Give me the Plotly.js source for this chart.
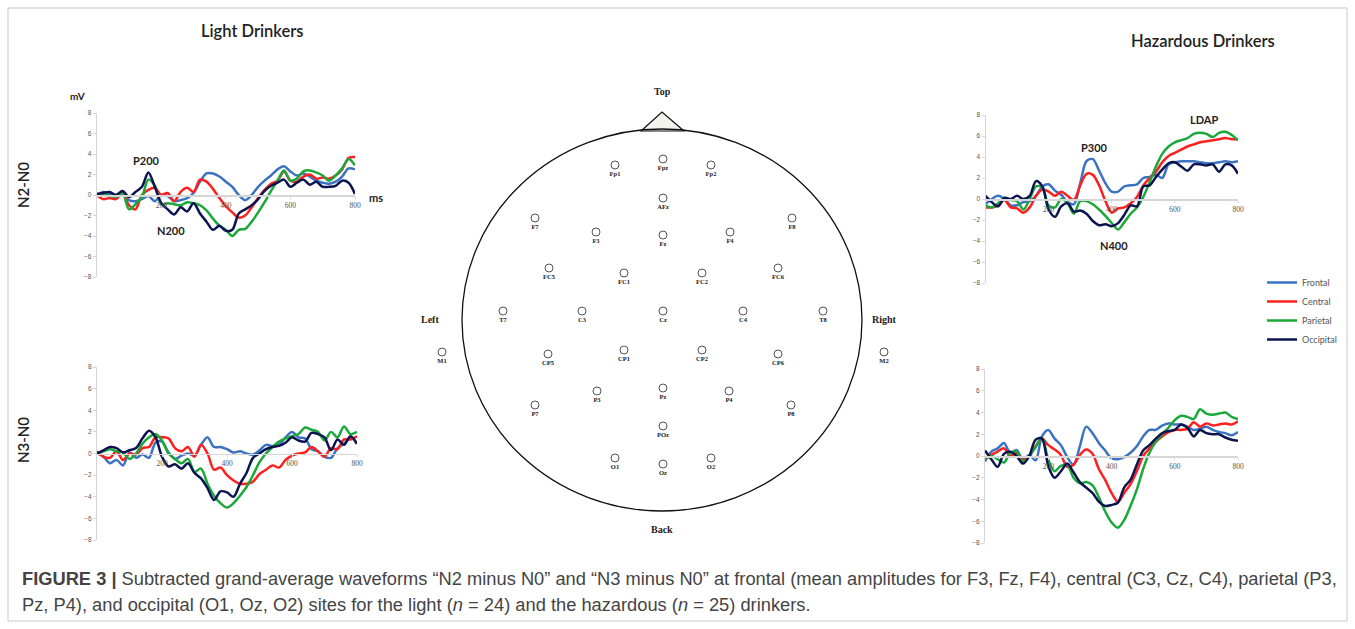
<!DOCTYPE html>
<html>
<head>
<meta charset="utf-8">
<script src="https://cdn.plot.ly/plotly-3.0.1.min.js"></script>
<style>html,body{margin:0;padding:0;background:#fff;}#chart{width:1355px;height:629px;}</style>
</head>
<body>
<div id="chart"></div>
<script>
// ---------- data ----------
const timeMs = [0,20,40,60,80,100,120,140,160,180,200,220,240,260,280,300,320,340,360,380,400,420,440,460,480,500,520,540,560,580,600,620,640,660,680,700,720,740,760,780,800];
const regions = ["Frontal","Central","Parietal","Occipital"];
const regionColors = ["#3b73c2","#ff1f1f","#1aa83a","#0c1450"];

// Light drinkers, N2 minus N0
const lightN2_frontal   = [0.0,0.3,0.1,0.0,0.2,-0.5,-0.6,-0.4,-0.1,-0.6,0.0,-0.1,-0.6,-0.5,-0.3,0.2,1.3,2.1,2.1,1.8,1.3,0.8,0.0,-0.5,0.0,0.8,1.4,1.9,2.5,2.8,2.3,1.9,2.1,1.8,1.4,1.2,1.1,1.3,1.8,2.6,2.5];
const lightN2_central   = [0.0,-0.4,-0.3,-0.4,0.2,-1.0,-1.4,0.0,0.5,0.7,0.0,0.2,-0.6,0.3,0.7,0.3,1.5,1.3,0.6,-0.3,-1.1,-1.7,-2.2,-2.0,-1.2,-0.3,0.5,1.1,1.4,2.3,1.4,1.3,1.8,2.0,1.6,1.7,1.6,1.9,2.5,3.6,3.7];
const lightN2_parietal  = [0.0,0.1,-0.1,-0.2,0.2,-1.4,-0.9,-0.2,1.5,0.9,-0.9,-0.8,-0.9,-1.0,-0.7,-0.8,-1.0,-1.5,-2.3,-3.0,-3.4,-4.0,-3.4,-3.3,-2.6,-1.7,-0.7,0.4,1.4,2.4,1.4,1.6,2.3,2.4,2.2,1.9,1.4,1.9,2.6,3.5,2.9];
const lightN2_occipital = [0.1,0.2,0.3,0.0,0.4,-0.2,0.3,0.8,2.2,0.8,-0.8,-1.4,-1.9,-1.2,-1.6,-0.8,-1.8,-2.6,-3.4,-3.0,-3.5,-3.4,-1.8,-1.4,-1.0,-0.4,0.4,0.9,1.2,1.5,0.8,1.2,1.5,1.0,1.3,0.8,0.8,0.9,1.4,1.2,0.1];

// Light drinkers, N3 minus N0
const lightN3_frontal   = [0.0,-0.3,-0.9,-0.6,-1.1,0.1,-0.4,-0.1,-0.4,1.0,1.1,0.1,-0.5,-0.2,0.0,-0.2,0.8,1.5,0.6,0.6,0.4,0.1,0.2,0.0,-0.1,0.3,0.8,0.7,0.8,1.5,2.0,1.5,1.4,0.4,0.2,-0.3,-0.4,0.5,0.9,1.5,0.9];
const lightN3_central   = [0.2,-0.3,-0.4,0.2,-0.6,0.0,-0.1,0.5,0.6,1.5,1.5,1.4,0.5,0.2,0.6,-0.3,0.8,0.0,-1.5,-1.3,-2.0,-2.5,-2.8,-2.8,-2.6,-1.9,-1.5,-1.1,-1.3,-0.6,-0.2,0.0,0.1,0.6,0.2,-0.3,0.5,0.4,1.3,1.3,1.6];
const lightN3_parietal  = [0.0,0.2,0.4,0.2,0.1,-0.5,0.0,0.9,1.5,1.8,1.2,0.0,-0.5,-0.9,-0.5,-1.7,-1.4,-2.8,-3.9,-4.6,-5.0,-4.6,-3.9,-3.1,-2.0,-0.8,0.0,0.6,1.1,1.4,1.6,1.8,2.4,2.2,2.0,1.2,2.0,1.5,2.5,1.8,2.0];
const lightN3_occipital = [0.0,0.3,0.6,0.5,0.1,0.3,0.5,1.4,2.1,1.5,-0.3,-1.2,-1.0,-1.4,-0.9,-1.8,-2.3,-3.2,-4.3,-3.5,-3.6,-4.0,-2.8,-1.8,-0.4,0.0,0.4,0.6,0.7,1.0,1.5,1.2,1.1,1.9,1.8,1.5,0.3,1.3,0.8,1.6,0.9];

// Hazardous drinkers, N2 minus N0
const hazN2_frontal   = [-0.5,0.0,0.3,0.0,-0.6,-0.6,-0.3,-0.2,0.3,1.2,1.4,0.8,0.4,-0.3,-0.5,1.5,3.6,3.8,2.7,1.5,0.7,0.7,1.2,1.3,1.4,2.0,2.1,2.3,2.0,3.3,3.5,3.6,3.6,3.6,3.5,3.4,3.4,3.5,3.6,3.5,3.6];
const hazN2_central   = [-0.8,-0.8,-0.6,-0.1,-0.8,-0.9,-1.3,-0.8,0.3,0.9,0.7,0.3,0.7,0.3,-0.1,1.3,2.4,2.3,1.3,-0.2,-1.3,-0.9,-0.8,-0.4,0.2,1.3,2.0,2.6,3.5,4.1,4.4,4.7,5.0,5.2,5.4,5.5,5.6,5.7,5.8,5.7,5.7];
const hazN2_parietal  = [-0.6,-0.8,-0.4,0.1,-0.1,-0.2,-1.0,0.0,1.2,1.1,-0.6,-0.8,0.0,-0.4,-1.4,-0.2,-0.2,-0.5,-1.0,-1.6,-2.3,-2.9,-2.2,-1.4,-0.8,0.2,1.6,3.1,4.3,5.0,5.4,5.6,5.8,6.2,6.3,6.2,5.9,6.3,6.4,6.1,5.6];
const hazN2_occipital = [0.3,-0.3,-0.7,0.1,0.0,0.3,0.0,0.3,1.7,1.2,-1.0,-1.7,-0.7,-0.4,-1.2,-1.1,-1.4,-2.1,-2.5,-2.4,-2.6,-2.3,-1.5,-0.6,-0.7,1.2,1.3,2.1,2.8,3.4,3.5,3.1,2.7,3.3,3.3,3.2,3.3,2.6,3.3,3.2,2.4];

// Hazardous drinkers, N3 minus N0
const hazN3_frontal   = [-0.5,0.4,0.7,1.2,0.25,0.55,-0.4,0.1,-0.4,1.8,2.4,1.6,1.0,-0.1,-0.8,0.9,2.7,2.1,1.2,0.5,-0.2,-0.3,-0.1,0.3,0.9,1.8,2.4,2.4,2.8,3.0,2.9,2.9,2.7,2.4,2.5,2.7,2.4,2.2,2.1,1.9,2.2];
const hazN3_central   = [-0.3,0.1,0.4,0.7,0.0,0.3,-0.3,0.0,0.9,1.6,1.0,0.6,0.1,-1.0,-0.8,0.1,0.6,0.2,-1.2,-2.2,-3.4,-4.2,-3.4,-2.6,-1.4,0.0,0.7,1.3,1.8,2.2,2.4,2.4,2.5,3.1,2.7,3.0,2.8,2.9,3.0,2.9,3.2];
const hazN3_parietal  = [-0.3,0.0,-0.3,-0.6,0.3,0.4,-0.5,0.0,0.8,1.7,-0.3,-1.4,-0.9,-0.8,-2.0,-2.5,-2.4,-2.7,-3.8,-5.1,-6.1,-6.6,-5.9,-4.6,-3.1,-1.2,0.3,1.3,2.0,2.6,3.3,3.7,3.6,3.4,4.3,3.9,3.8,3.9,4.0,3.6,3.4];
const hazN3_occipital = [0.5,-0.3,-1.0,0.2,0.4,0.0,-0.7,0.0,1.5,1.6,-0.9,-2.0,-1.4,-0.7,-1.5,-2.4,-2.9,-3.4,-4.2,-4.6,-4.5,-4.3,-2.9,-2.2,-0.8,0.5,1.0,1.6,2.1,2.3,2.4,2.9,2.6,1.8,2.4,2.1,2.0,2.0,1.7,1.5,1.4];

const yTickVals = [-8,-6,-4,-2,0,2,4,6,8];
const xTickVals = [200,400,600,800];

// electrode montage (head map positions)
const electrodeNames = ["Fp1","Fpz","Fp2","AFz","F7","F3","Fz","F4","F8","FC5","FC1","FC2","FC6","T7","C3","Cz","C4","T8","M1","CP5","CP1","CP2","CP6","M2","P7","P3","Pz","P4","P8","POz","O1","Oz","O2"];
const electrodeX = [615,663,711,663,535,596,663,730,792,549,624,702,778,503,582,663,743,823,442,548,624,702,778,884,535,597,663,729,791,663,615,663,711];
const electrodeY = [165,159,165,198,218,232,235,232,218,268,273,273,268,311,311,311,311,311,352,354,350,350,354,352,405,391,388,391,405,426,458,464,458];

// ---------- figure ----------
const W = 1355, H = 629;
const panels = [
  {xa:'x',  ya:'y',  series:[lightN2_frontal,lightN2_central,lightN2_parietal,lightN2_occipital], legend:true},
  {xa:'x2', ya:'y2', series:[lightN3_frontal,lightN3_central,lightN3_parietal,lightN3_occipital], legend:false},
  {xa:'x3', ya:'y3', series:[hazN2_frontal,hazN2_central,hazN2_parietal,hazN2_occipital], legend:false},
  {xa:'x4', ya:'y4', series:[hazN3_frontal,hazN3_central,hazN3_parietal,hazN3_occipital], legend:false}
];
const traces = [];
panels.forEach(p => {
  p.series.forEach((vals, i) => {
    traces.push({
      type:'scatter', mode:'lines', x: timeMs, y: vals,
      xaxis: p.xa, yaxis: p.ya, name: regions[i],
      legendgroup: regions[i], showlegend: p.legend,
      line: {color: regionColors[i], width: 2.5, shape: 'spline', smoothing: 0.9},
      hoverinfo: 'skip'
    });
  });
});
traces.push({
  type:'scatter', mode:'markers+text', x: electrodeX, y: electrodeY, text: electrodeNames,
  xaxis:'x5', yaxis:'y5', showlegend:false, hoverinfo:'skip',
  textposition:'bottom center',
  textfont:{family:'Liberation Serif, serif', size:6.5, color:'#222', weight:'bold'},
  marker:{symbol:'circle-open', size:8, color:'#555', line:{width:1}}
});

// pixel boxes of each panel: [x0 px, x800 px, y(+8) px, y(-8) px]
const boxes = [[96.7,355,113,277],[97,357,367,540],[985.5,1238,115,283],[985,1238,369,543]];
const layout = {
  width: W, height: H, margin:{l:0,r:0,t:0,b:0},
  paper_bgcolor:'#ffffff', plot_bgcolor:'rgba(0,0,0,0)',
  font:{family:'Liberation Sans, Arial, sans-serif', color:'#333'},
  showlegend:true,
  legend:{x:1262/W, y:1-268/H, xanchor:'left', yanchor:'top', bgcolor:'rgba(0,0,0,0)',
          font:{family:'Lato, Open Sans, sans-serif', size:9, color:'#555'}, itemwidth:30, tracegroupgap:0},
  xaxis5:{domain:[0,1], range:[0,W], visible:false, fixedrange:true},
  yaxis5:{domain:[0,1], range:[H,0], visible:false, fixedrange:true, anchor:'x5'},
  shapes:[], annotations:[]
};
boxes.forEach((b, k) => {
  const n = k === 0 ? '' : String(k+1);
  const yd = [1 - b[3]/H, 1 - b[2]/H];
  layout['xaxis'+n] = {
    domain:[b[0]/W, b[1]/W], range:[0,800], anchor:'free', position:(yd[0]+yd[1])/2,
    showline:true, linecolor:'#d6d6d6', linewidth:1.5, showgrid:false, zeroline:false,
    tickvals:xTickVals, ticks:'outside', ticklen:2, tickcolor:'#d6d6d6',
    tickfont:{family:'Liberation Serif, serif', size:7.5, color:'#555'}, fixedrange:true
  };
  layout['yaxis'+n] = {
    domain:yd, range:[-8,8], anchor:'x'+n,
    showline:true, linecolor:'#d6d6d6', linewidth:1, showgrid:false, zeroline:false,
    tickvals:yTickVals, ticks:'outside', ticklen:3, tickcolor:'#d6d6d6',
    tickfont:{family:'Liberation Sans, sans-serif', size:6.5, color:'#555'}, fixedrange:true
  };
});

// frame, head outline and nose
layout.shapes.push({type:'rect', xref:'x5', yref:'y5', x0:8, x1:1347, y0:8, y1:621, line:{color:'#c8c8c8', width:1}, layer:'below'});
layout.shapes.push({type:'path', xref:'x5', yref:'y5', path:'M 641 131 L 662 112 L 684 131 Z', fillcolor:'#f3f3ee', line:{color:'#111', width:1.2}});
layout.shapes.push({type:'circle', xref:'x5', yref:'y5', x0:462, x1:862, y0:129, y1:511, line:{color:'#111', width:1.3}});

function ann(text, x, y, size, opts) {
  layout.annotations.push(Object.assign({
    text:text, x:x, y:y, xref:'x5', yref:'y5', showarrow:false,
    xanchor:'center', yanchor:'middle',
    font:{family:'Lato, Open Sans, sans-serif', size:size, color:'#222'}
  }, opts || {}));
}
const boldSans = (s, c) => ({family:'Lato, Open Sans, sans-serif', size:s, color:c||'#222', weight:'bold'});
const serifB = (s) => ({family:'Liberation Serif, serif', size:s, color:'#222', weight:'bold'});
const titleFont = {family:'Lato, Open Sans, sans-serif', size:16.5, color:'#222', weight:600};

ann('Light Drinkers', 252, 31, 16.5, {font:titleFont});
ann('Hazardous Drinkers', 1203, 41, 16.5, {font:titleFont});
ann('N2-N0', 23, 185, 15, {textangle:-90, font:{family:'Lato, Open Sans, sans-serif', size:15, color:'#222', weight:600}});
ann('N3-N0', 23, 440, 15, {textangle:-90, font:{family:'Lato, Open Sans, sans-serif', size:15, color:'#222', weight:600}});
ann('mV', 77, 96, 10, {font:boldSans(10)});
ann('ms', 376, 197, 11, {font:boldSans(11)});
ann('P200', 146, 160, 11, {font:boldSans(11)});
ann('N200', 171, 230, 11, {font:boldSans(11)});
ann('P300', 1094, 147, 11, {font:boldSans(11)});
ann('LDAP', 1204, 119, 11, {font:boldSans(11)});
ann('N400', 1114, 245, 11, {font:boldSans(11)});
ann('Top', 662, 91, 10, {font:serifB(10)});
ann('Back', 662, 529, 10, {font:serifB(10)});
ann('Left', 430, 319, 10, {font:serifB(10)});
ann('Right', 884, 319, 10, {font:serifB(10)});

const capFont = {family:'Liberation Sans, Arial, sans-serif', size:18.3, color:'#444'};
ann('<b>FIGURE 3 |</b> Subtracted grand-average waveforms \u201cN2 minus N0\u201d and \u201cN3 minus N0\u201d at frontal (mean amplitudes for F3, Fz, F4), central (C3, Cz, C4), parietal (P3,',
    20, 578, 18.3, {xanchor:'left', font:capFont});
ann('Pz, P4), and occipital (O1, Oz, O2) sites for the light (<i>n</i> = 24) and the hazardous (<i>n</i> = 25) drinkers.',
    20, 604, 18.3, {xanchor:'left', font:capFont});

Plotly.newPlot('chart', traces, layout, {staticPlot:true, displayModeBar:false});
</script>
</body>
</html>
